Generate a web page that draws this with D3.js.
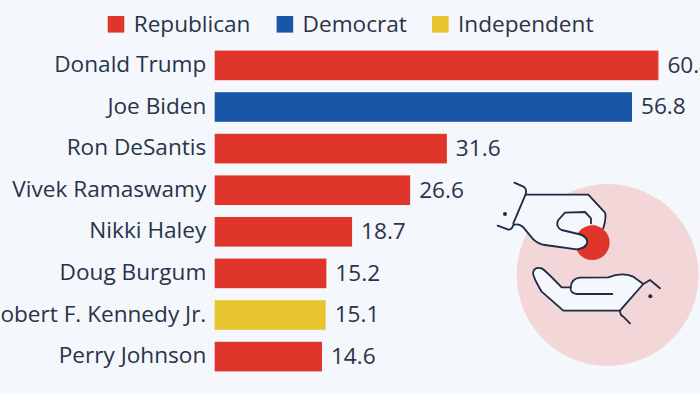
<!DOCTYPE html>
<html>
<head>
<meta charset="utf-8">
<script src="https://cdn.jsdelivr.net/npm/d3@7"></script>
<style>
  html, body { margin: 0; padding: 0; background: #f4f7fb; overflow: hidden; }
  svg { display: block; }
  text { font-family: "Open Sans", sans-serif; fill: #2a3349; }
</style>
</head>
<body>
<div id="chart"></div>
<script>
let width = 700
let height = 394
let margin = { left: 214.7, top: 44.6, bottom: 16.6 }

//data
let names = ["Donald Trump", "Joe Biden", "Ron DeSantis", "Vivek Ramaswamy", "Nikki Haley", "Doug Burgum", "Robert F. Kennedy Jr.", "Perry Johnson"]
let values = [60.4, 56.8, 31.6, 26.6, 18.7, 15.2, 15.1, 14.6]
let parties = ["Republican", "Democrat", "Republican", "Republican", "Republican", "Republican", "Independent", "Republican"]
let partyNames = ["Republican", "Democrat", "Independent"]
let partyColors = ["#e0352b", "#1a56a8", "#e6c52e"]
let legendX = [107.7, 276.6, 432]

let fontSize = 22.6

let svg = d3.select("#chart").append("svg")
  .attr("width", width)
  .attr("height", height)

let xScale = d3.scaleLinear([0, 56.8], [margin.left, 632])

let yScale = d3.scaleBand(names, [margin.top, height - margin.bottom])
  .paddingInner(0.288)
  .paddingOuter(0.144)

let colorScale = d3.scaleOrdinal(partyNames, partyColors)

//icon goes first, it sits behind the labels. coordinates are in 3x space
let icon = svg.append("g")
  .attr("transform", "translate(480,160) scale(0.3333)")

let bg = "#f4f7fb"
let ink = "#1f2a44"

icon.append("circle").attr("cx", 383).attr("cy", 345).attr("r", 273).attr("fill", "#f3d6d7")

//upper hand fill
icon.append("path")
  .attr("d", "M138,104 L325,104 L375,158 Q380,170 370,205 L333,190 L322,245 L290,268 L195,255 Q175,252 160,238 L128,200 L100,195 Z")
  .attr("fill", bg)

//lower hand fill
icon.append("path")
  .attr("d", "M160,335 Q165,320 185,325 Q195,330 245,382 L272,382 Q275,355 300,353 L385,352 Q425,335 460,350 L490,372 L420,452 L250,452 L185,395 L165,355 Z")
  .attr("fill", bg)

icon.append("circle").attr("cx", 337).attr("cy", 248).attr("r", 52).attr("fill", "#e0352b")

//thumb has to lie over the coin
icon.append("path")
  .attr("d", "M245,210 L295,222 Q320,228 322,245 Q320,265 290,268 L240,262 Z")
  .attr("fill", bg)

let strokes = [
  "M103,68 L130,80 Q140,85 138,100 L100,190",
  "M53,197 L85,209 Q95,210 100,195 Q115,190 128,200 L160,238 Q175,252 195,255 L290,268 Q320,265 322,245 Q320,228 295,222 L245,210 Q225,200 235,180 L255,158 L315,156 L333,175 L333,190",
  "M138,104 L325,104 L375,158 Q380,170 370,205",
  "M272,382 L245,382 Q195,330 185,325 Q165,320 160,335 Q155,345 185,395 L250,452 L420,452 L490,372 L510,360 L540,385",
  "M490,372 L460,350 Q425,335 385,352 L300,353 Q275,355 272,382 Q270,400 290,402 L397,402",
  "M420,452 Q420,465 430,470 L450,490"
]

icon.selectAll(".hand")
  .data(strokes)
  .enter()
  .append("path")
  .attr("class", "hand")
  .attr("d", d => d)
  .attr("fill", "none")
  .attr("stroke", ink)
  .attr("stroke-width", 5.5)
  .attr("stroke-linecap", "round")
  .attr("stroke-linejoin", "round")

icon.selectAll(".dot")
  .data([[75, 162], [511, 409]])
  .enter()
  .append("circle")
  .attr("class", "dot")
  .attr("cx", d => d[0])
  .attr("cy", d => d[1])
  .attr("r", 6)
  .attr("fill", ink)

//legend
let legend = svg.selectAll(".legend")
  .data(partyNames)
  .enter()
  .append("g")
  .attr("class", "legend")
  .attr("transform", (d, i) => "translate(" + legendX[i] + ",16)")

legend.append("rect")
  .attr("width", 16.6)
  .attr("height", 16.6)
  .attr("fill", d => colorScale(d))

legend.append("text")
  .attr("x", 26)
  .attr("y", 16.4)
  .style("font-size", fontSize + "px")
  .text(d => d)

//bars
svg.selectAll(".bar")
  .data(names)
  .enter()
  .append("rect")
  .attr("class", "bar")
  .attr("x", xScale(0))
  .attr("y", d => yScale(d))
  .attr("width", (d, i) => xScale(values[i]) - xScale(0))
  .attr("height", yScale.bandwidth())
  .attr("fill", (d, i) => colorScale(parties[i]))

//value labels, the first one runs off the edge like in the original
svg.selectAll(".value")
  .data(names)
  .enter()
  .append("text")
  .attr("class", "value")
  .attr("x", (d, i) => xScale(values[i]) + 9)
  .attr("y", d => yScale(d) + yScale.bandwidth() / 2)
  .attr("dy", "0.33em")
  .style("font-size", fontSize + "px")
  .text((d, i) => values[i].toFixed(1))

//names on the left
let yAxis = d3.axisLeft(yScale).tickSize(0).tickPadding(8.4)

let axisGroup = svg.append("g")
  .attr("transform", "translate(" + margin.left + ",0)")
  .call(yAxis)

axisGroup.select(".domain").remove()
axisGroup.selectAll("text")
  .attr("dy", "0.29em")
  .style("font-size", fontSize + "px")
  .style("font-family", '"Open Sans", sans-serif')
  .attr("fill", null)
</script>
</body>
</html>
